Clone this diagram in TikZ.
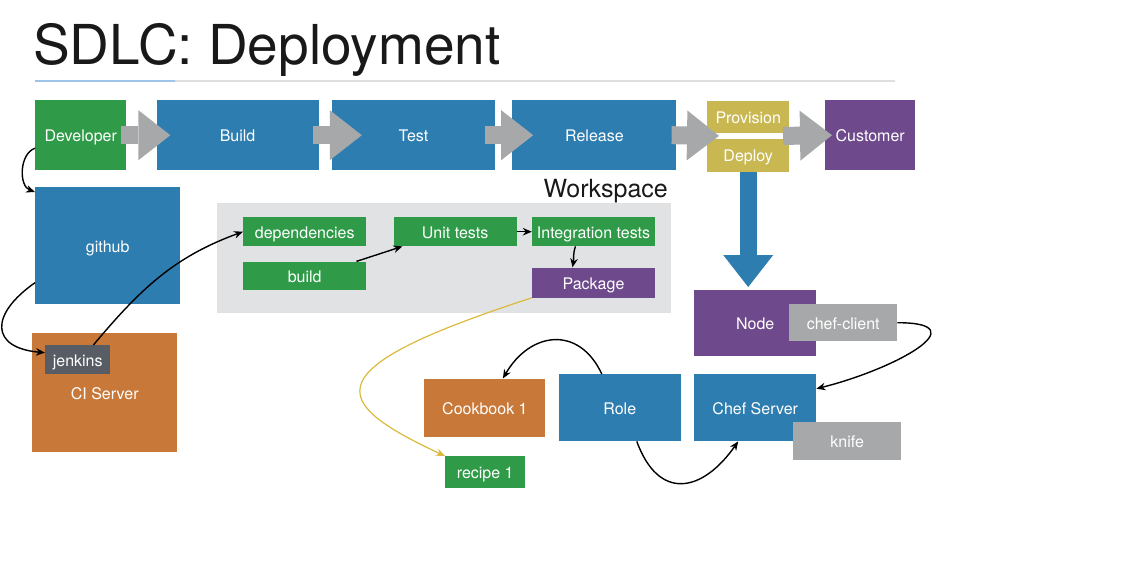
\documentclass[tikz,border=0pt]{standalone}
\usepackage{fontspec}
\setmainfont{TeX Gyre Heros}
\usetikzlibrary{arrows.meta,positioning,calc}

\definecolor{dgreen}{RGB}{47,155,72}
\definecolor{dblue}{RGB}{46,125,176}
\definecolor{dpurple}{RGB}{110,74,140}
\definecolor{dorange}{RGB}{200,121,58}
\definecolor{dolive}{RGB}{201,184,82}
\definecolor{dgray}{RGB}{166,168,169}
\definecolor{ddark}{RGB}{88,92,100}
\definecolor{wsgray}{RGB}{225,226,228}
\definecolor{curveyellow}{RGB}{218,186,60}
\definecolor{rulegray}{RGB}{222,222,222}
\definecolor{ruleblue}{RGB}{160,196,232}

\tikzset{
  box/.style={rectangle,inner sep=0pt,text=white,font=\fontsize{16}{19}\selectfont,text height=13pt,text depth=0pt,anchor=north west},
  bigarrow/.style={line width=18pt,draw=dgray,-{Triangle[length=32pt,width=50pt,line width=0pt]}},
  link/.style={->,line width=1.4pt,black}
}

\begin{document}
\begin{tikzpicture}[x=1pt,y=-1pt,>={Stealth[length=9pt,width=7.5pt]}]
\useasboundingbox (0,0) rectangle (1126,582);

\node[anchor=base west,inner sep=0pt,text=black!90,font=\fontsize{55}{60}\selectfont] (title) at (33,64) {SDLC: Deployment};
\draw[rulegray,line width=1.5pt] (35,81) -- (895,81);
\draw[ruleblue,line width=1.5pt] (35,81) -- (175,81);

\node[box,fill=dgreen,minimum width=91pt,minimum height=70pt]   (dev)   at (35,100)        {Developer};
\node[box,fill=dblue,minimum width=162pt,minimum height=70pt]   (build) [right=30pt of dev]   {Build};
\node[box,fill=dblue,minimum width=163pt,minimum height=70pt]   (test)  [right=13pt of build] {Test};
\node[box,fill=dblue,minimum width=164pt,minimum height=70pt]   (release) [right=17pt of test] {Release};
\node[box,fill=dolive,minimum width=82pt,minimum height=32pt]   (prov)  at (707,101)       {Provision};
\node[box,fill=dolive,minimum width=82pt,minimum height=33pt]   (deploy) [below=5pt of prov] {Deploy};
\node[box,fill=dpurple,minimum width=90pt,minimum height=70pt]  (cust)  at (825,100)       {Customer};

\node[box,fill=dblue,minimum width=145pt,minimum height=117pt]  (github) at (35,187)       {github};
\node[box,fill=dorange,minimum width=145pt,minimum height=119pt] (ci)   at (32,333)        {CI Server};
\node[box,fill=ddark,minimum width=65pt,minimum height=29pt]    (jenkins) at (45,345)      {jenkins};

\node[anchor=north west,inner sep=0pt,fill=wsgray,draw=black!12,minimum width=453pt,minimum height=109pt] (ws) at (217,203) {};
\node[anchor=base east,inner sep=0pt,text=black!90,font=\fontsize{25}{30}\selectfont] (wslabel) at (668,197) {Workspace};
\node[box,fill=dgreen,minimum width=123pt,minimum height=29pt]  (deps)  at (243,217)       {dependencies};
\node[box,fill=dgreen,minimum width=123pt,minimum height=28pt]  (bld)   [below=15pt of deps] {build};
\node[box,fill=dgreen,minimum width=123pt,minimum height=29pt]  (unit)  [right=27pt of deps] {Unit tests};
\node[box,fill=dgreen,minimum width=123pt,minimum height=29pt]  (integ) [right=15pt of unit] {Integration tests};
\node[box,fill=dpurple,minimum width=123pt,minimum height=30pt] (pkg)   [below=21pt of integ] {Package};

\node[box,fill=dpurple,minimum width=122pt,minimum height=66pt] (chefnode) at (694,290)    {Node};
\node[box,fill=dgray,minimum width=108pt,minimum height=37pt]   (client) at (789,304)      {chef-client};
\node[box,fill=dblue,minimum width=122pt,minimum height=67pt]   (server) at (694,374)      {Chef Server};
\node[box,fill=dgray,minimum width=108pt,minimum height=38pt]   (knife) at (793,422)       {knife};
\node[box,fill=dblue,minimum width=122pt,minimum height=67pt]   (role)  [left=13pt of server] {Role};
\node[box,fill=dorange,minimum width=121pt,minimum height=58pt] (cookbook) [left=13pt of role] {Cookbook 1};
\node[box,fill=dgreen,minimum width=80pt,minimum height=32pt]   (recipe) at (445,456)      {recipe 1};

\coordinate (gap) at ($(prov.south west)!.5!(deploy.north west)$);
\coordinate (droptip) at (deploy.south |- chefnode.north);

\draw[bigarrow] ([xshift=-5pt]dev.east) -- ([xshift=14pt]build.west);
\draw[bigarrow] ([xshift=-6pt]build.east) -- ([xshift=30pt]test.west);
\draw[bigarrow] ([xshift=-10pt]test.east) -- ([xshift=21pt]release.west);
\draw[bigarrow] ([xshift=-5pt]release.east) -- ([xshift=12pt]gap);
\draw[bigarrow] ([xshift=76pt]gap) -- ([xshift=7pt]cust.west);
\draw[bigarrow,draw=dblue,line width=17pt] (deploy.south) -- ([yshift=3pt]droptip);

\path[link] ([yshift=-13pt]dev.west)    edge[out=200,in=160]               ([yshift=-5pt]github.north west)
            ([yshift=-37pt]github.west) edge[out=215,in=175,looseness=2]   ([yshift=7pt]jenkins.west)
            ([xshift=-17pt]jenkins.north east) edge[out=50,in=200]         (deps.west)
            ([xshift=-10pt]bld.north east) edge                            ([xshift=9pt]unit.south west)
            (unit.east)                 edge                               (integ.west)
            ([xshift=-18pt]integ.south) edge[out=-110,in=80]               ([xshift=-21pt]pkg.north)
            (pkg.south west)            edge[curveyellow,line width=1.2pt,out=198,in=155,out distance=230pt,in distance=130pt] (recipe.north west)
            ([xshift=-18pt]role.north)  edge[out=115,in=60,looseness=1.4]  ([xshift=18pt]cookbook.north)
            ([xshift=17pt]role.south)   edge[out=-70,in=235,looseness=1.6] ([xshift=-17pt]server.south)
            (client.east)               edge[out=0,in=14,looseness=2]      ([yshift=19pt]server.east);

\end{tikzpicture}
\end{document}
